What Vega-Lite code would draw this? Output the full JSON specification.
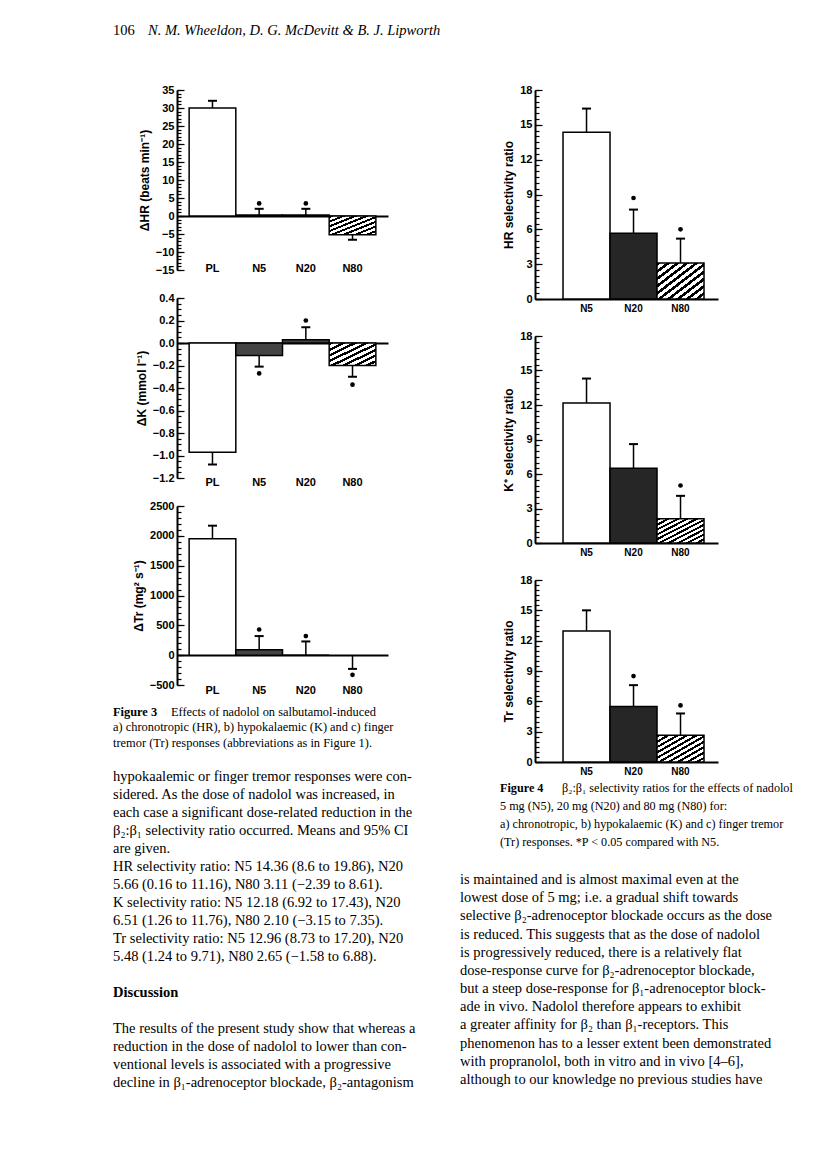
{
  "$schema": "https://vega.github.io/schema/vega-lite/v6.json",
  "background": "white",
  "padding": {"left": 113, "top": 0, "right": 0, "bottom": 0},
  "config": {
    "view": {"stroke": null},
    "axis": {"labelFont": "Liberation Sans", "labelFontWeight": "bold", "labelFontSize": 11, "labelColor": "black",
             "titleFont": "Liberation Sans", "titleFontWeight": "bold", "titleFontSize": 12, "titleColor": "black",
             "domainColor": "black", "domainWidth": 2, "tickColor": "black", "tickWidth": 1.2, "grid": false, "labelOverlap": false},
    "text": {"font": "Liberation Serif", "fontSize": 14.5, "color": "black", "align": "left", "baseline": "middle"}
  },
  "bounds": "flush",
  "spacing": 28,
  "vconcat": [
    {
      "width": 327, "height": 62,
      "data": {"values": [{"part": "page", "t": "106"}, {"part": "authors", "t": "N. M. Wheeldon, D. G. McDevitt & B. J. Lipworth"}]},
      "layer": [
        {"transform": [{"filter": "datum.part == 'page'"}], "mark": {"type": "text", "fontSize": 14.5}, "encoding": {"x": {"value": 0}, "text": {"field": "t"}}},
        {"transform": [{"filter": "datum.part == 'authors'"}], "mark": {"type": "text", "fontSize": 14.5, "fontStyle": "italic", "dx": 35}, "encoding": {"x": {"value": 0}, "text": {"field": "t"}}}
      ]
    },
    {
      "bounds": "full",
      "spacing": 20,
      "hconcat": [
        {
          "bounds": "flush",
          "spacing": 28,
          "vconcat": [
            {
              "width": 275, "height": 180,
              "data": {"values": [
                {"g": "PL", "v": 30, "err": 32, "star": null},
                {"g": "N5", "v": 0.3, "err": 2, "star": 3.5},
                {"g": "N20", "v": 0.3, "err": 2, "star": 3.5},
                {"g": "N80", "v": -5.2, "err": -6.6, "star": null}
              ]},
              "resolve": {"axis": {"y": "independent"}},
              "encoding": {"x": {"field": "g", "type": "nominal", "sort": ["PL", "N5", "N20", "N80"],
                "scale": {"range": [64, 275], "paddingInner": 0, "paddingOuter": 0.26},
                "axis": {"title": null, "orient": "bottom", "offset": -54, "ticks": false, "labelPadding": 52, "labelBaseline": "middle", "labelAngle": 0}}},
              "layer": [
                {"transform": [{"filter": "datum.g == 'PL'"}], "mark": {"type": "bar", "fill": "white", "stroke": "black", "strokeWidth": 1.5},
                 "encoding": {"y": {"field": "v", "type": "quantitative", "scale": {"domain": [-15, 35], "nice": false, "zero": false},
                   "axis": {"title": "ΔHR (beats min⁻¹)", "orient": "left", "offset": -64, "values": [-15, -10, -5, 0, 5, 10, 15, 20, 25, 30, 35],
                     "tickSize": -7, "labelPadding": 10, "titlePadding": 4}},
                   "y2": {"datum": 0}}},
                {"transform": [{"filter": "datum.g == 'N5' || datum.g == 'N20'"}], "mark": {"type": "bar", "fill": "#444", "stroke": "black", "strokeWidth": 1.5},
                 "encoding": {"y": {"field": "v", "type": "quantitative", "scale": {"domain": [-15, 35], "nice": false, "zero": false}, "axis": null}, "y2": {"datum": 0}}},
                {"transform": [{"filter": "datum.g == 'N80'"}], "mark": {"type": "bar", "stroke": "black", "strokeWidth": 1.5,
                   "fill": {"gradient": "linear", "x1": 0, "y1": 0, "x2": 1, "y2": 1, "stops": [
                     {"offset": 0, "color": "black"}, {"offset": 0.056, "color": "black"}, {"offset": 0.056, "color": "white"}, {"offset": 0.125, "color": "white"},
                     {"offset": 0.125, "color": "black"}, {"offset": 0.181, "color": "black"}, {"offset": 0.181, "color": "white"}, {"offset": 0.25, "color": "white"},
                     {"offset": 0.25, "color": "black"}, {"offset": 0.306, "color": "black"}, {"offset": 0.306, "color": "white"}, {"offset": 0.375, "color": "white"},
                     {"offset": 0.375, "color": "black"}, {"offset": 0.431, "color": "black"}, {"offset": 0.431, "color": "white"}, {"offset": 0.5, "color": "white"},
                     {"offset": 0.5, "color": "black"}, {"offset": 0.556, "color": "black"}, {"offset": 0.556, "color": "white"}, {"offset": 0.625, "color": "white"},
                     {"offset": 0.625, "color": "black"}, {"offset": 0.681, "color": "black"}, {"offset": 0.681, "color": "white"}, {"offset": 0.75, "color": "white"},
                     {"offset": 0.75, "color": "black"}, {"offset": 0.806, "color": "black"}, {"offset": 0.806, "color": "white"}, {"offset": 0.875, "color": "white"},
                     {"offset": 0.875, "color": "black"}, {"offset": 0.931, "color": "black"}, {"offset": 0.931, "color": "white"}, {"offset": 1, "color": "white"}]}},
                 "encoding": {"y": {"field": "v", "type": "quantitative", "scale": {"domain": [-15, 35], "nice": false, "zero": false}, "axis": null}, "y2": {"datum": 0}}},
                {"mark": {"type": "rule", "strokeWidth": 1.5, "color": "black"},
                 "encoding": {"y": {"field": "v", "type": "quantitative", "scale": {"domain": [-15, 35], "nice": false, "zero": false},
                   "axis": {"title": null, "orient": "left", "offset": -64, "labels": false, "domain": false, "tickSize": -4,
                     "values": [-15,-14,-13,-12,-11,-10,-9,-8,-7,-6,-5,-4,-3,-2,-1,0,1,2,3,4,5,6,7,8,9,10,11,12,13,14,15,16,17,18,19,20,21,22,23,24,25,26,27,28,29,30,31,32,33,34,35]}},
                   "y2": {"field": "err"}}},
                {"mark": {"type": "tick", "thickness": 2, "size": 9, "color": "black", "opacity": 1},
                 "encoding": {"y": {"field": "err", "type": "quantitative", "scale": {"domain": [-15, 35], "nice": false, "zero": false}, "axis": null}}},
                {"transform": [{"filter": "datum.star != null"}], "mark": {"type": "point", "shape": "circle", "filled": true, "size": 22, "color": "black", "opacity": 1},
                 "encoding": {"y": {"field": "star", "type": "quantitative", "scale": {"domain": [-15, 35], "nice": false, "zero": false}, "axis": null}}}
              ]
            },
            {
              "width": 275, "height": 180,
              "data": {"values": [
                {"g": "PL", "v": -0.97, "err": -1.08, "star": null},
                {"g": "N5", "v": -0.11, "err": -0.21, "star": -0.27},
                {"g": "N20", "v": 0.03, "err": 0.14, "star": 0.2},
                {"g": "N80", "v": -0.2, "err": -0.3, "star": -0.37}
              ]},
              "resolve": {"axis": {"y": "independent"}},
              "encoding": {"x": {"field": "g", "type": "nominal", "sort": ["PL", "N5", "N20", "N80"],
                "scale": {"range": [64, 275], "paddingInner": 0, "paddingOuter": 0.26},
                "axis": {"title": null, "orient": "bottom", "offset": -135, "ticks": false, "labelPadding": 139, "labelBaseline": "middle", "labelAngle": 0}}},
              "layer": [
                {"transform": [{"filter": "datum.g == 'PL'"}], "mark": {"type": "bar", "fill": "white", "stroke": "black", "strokeWidth": 1.5},
                 "encoding": {"y": {"field": "v", "type": "quantitative", "scale": {"domain": [-1.2, 0.4], "nice": false, "zero": false},
                   "axis": {"title": "ΔK (mmol l⁻¹)", "orient": "left", "offset": -64, "format": ".1f",
                     "values": [-1.2, -1.0, -0.8, -0.6, -0.4, -0.2, 0, 0.2, 0.4],
                     "tickSize": -7, "labelPadding": 10, "titlePadding": 4}},
                   "y2": {"datum": 0}}},
                {"transform": [{"filter": "datum.g == 'N5' || datum.g == 'N20'"}], "mark": {"type": "bar", "fill": "#444", "stroke": "black", "strokeWidth": 1.5},
                 "encoding": {"y": {"field": "v", "type": "quantitative", "scale": {"domain": [-1.2, 0.4], "nice": false, "zero": false}, "axis": null}, "y2": {"datum": 0}}},
                {"transform": [{"filter": "datum.g == 'N80'"}], "mark": {"type": "bar", "stroke": "black", "strokeWidth": 1.5,
                   "fill": {"gradient": "linear", "x1": 0, "y1": 0, "x2": 1, "y2": 1, "stops": [
                     {"offset": 0, "color": "black"}, {"offset": 0.056, "color": "black"}, {"offset": 0.056, "color": "white"}, {"offset": 0.125, "color": "white"},
                     {"offset": 0.125, "color": "black"}, {"offset": 0.181, "color": "black"}, {"offset": 0.181, "color": "white"}, {"offset": 0.25, "color": "white"},
                     {"offset": 0.25, "color": "black"}, {"offset": 0.306, "color": "black"}, {"offset": 0.306, "color": "white"}, {"offset": 0.375, "color": "white"},
                     {"offset": 0.375, "color": "black"}, {"offset": 0.431, "color": "black"}, {"offset": 0.431, "color": "white"}, {"offset": 0.5, "color": "white"},
                     {"offset": 0.5, "color": "black"}, {"offset": 0.556, "color": "black"}, {"offset": 0.556, "color": "white"}, {"offset": 0.625, "color": "white"},
                     {"offset": 0.625, "color": "black"}, {"offset": 0.681, "color": "black"}, {"offset": 0.681, "color": "white"}, {"offset": 0.75, "color": "white"},
                     {"offset": 0.75, "color": "black"}, {"offset": 0.806, "color": "black"}, {"offset": 0.806, "color": "white"}, {"offset": 0.875, "color": "white"},
                     {"offset": 0.875, "color": "black"}, {"offset": 0.931, "color": "black"}, {"offset": 0.931, "color": "white"}, {"offset": 1, "color": "white"}]}},
                 "encoding": {"y": {"field": "v", "type": "quantitative", "scale": {"domain": [-1.2, 0.4], "nice": false, "zero": false}, "axis": null}, "y2": {"datum": 0}}},
                {"mark": {"type": "rule", "strokeWidth": 1.5, "color": "black"},
                 "encoding": {"y": {"field": "v", "type": "quantitative", "scale": {"domain": [-1.2, 0.4], "nice": false, "zero": false},
                   "axis": {"title": null, "orient": "left", "offset": -64, "labels": false, "domain": false, "tickSize": -4,
                     "values": [-1.2,-1.15,-1.1,-1.05,-1,-0.95,-0.9,-0.85,-0.8,-0.75,-0.7,-0.65,-0.6,-0.55,-0.5,-0.45,-0.4,-0.35,-0.3,-0.25,-0.2,-0.15,-0.1,-0.05,0,0.05,0.1,0.15,0.2,0.25,0.3,0.35,0.4]}},
                   "y2": {"field": "err"}}},
                {"mark": {"type": "tick", "thickness": 2, "size": 9, "color": "black", "opacity": 1},
                 "encoding": {"y": {"field": "err", "type": "quantitative", "scale": {"domain": [-1.2, 0.4], "nice": false, "zero": false}, "axis": null}}},
                {"transform": [{"filter": "datum.star != null"}], "mark": {"type": "point", "shape": "circle", "filled": true, "size": 22, "color": "black", "opacity": 1},
                 "encoding": {"y": {"field": "star", "type": "quantitative", "scale": {"domain": [-1.2, 0.4], "nice": false, "zero": false}, "axis": null}}}
              ]
            },
            {
              "width": 275, "height": 179,
              "data": {"values": [
                {"g": "PL", "v": 1950, "err": 2170, "star": null},
                {"g": "N5", "v": 90, "err": 320, "star": 430},
                {"g": "N20", "v": 0, "err": 230, "star": 320},
                {"g": "N80", "v": 0, "err": -230, "star": -330}
              ]},
              "resolve": {"axis": {"y": "independent"}},
              "encoding": {"x": {"field": "g", "type": "nominal", "sort": ["PL", "N5", "N20", "N80"],
                "scale": {"range": [64, 275], "paddingInner": 0, "paddingOuter": 0.26},
                "axis": {"title": null, "orient": "bottom", "offset": -30, "ticks": false, "labelPadding": 35, "labelBaseline": "middle", "labelAngle": 0}}},
              "layer": [
                {"transform": [{"filter": "datum.g == 'PL'"}], "mark": {"type": "bar", "fill": "white", "stroke": "black", "strokeWidth": 1.5},
                 "encoding": {"y": {"field": "v", "type": "quantitative", "scale": {"domain": [-500, 2500], "nice": false, "zero": false},
                   "axis": {"title": "ΔTr (mg² s⁻¹)", "orient": "left", "offset": -64, "format": "d",
                     "values": [-500, 0, 500, 1000, 1500, 2000, 2500],
                     "tickSize": -7, "labelPadding": 10, "titlePadding": 4}},
                   "y2": {"datum": 0}}},
                {"transform": [{"filter": "datum.g == 'N5' || datum.g == 'N20'"}], "mark": {"type": "bar", "fill": "#444", "stroke": "black", "strokeWidth": 1.5},
                 "encoding": {"y": {"field": "v", "type": "quantitative", "scale": {"domain": [-500, 2500], "nice": false, "zero": false}, "axis": null}, "y2": {"datum": 0}}},
                {"mark": {"type": "rule", "strokeWidth": 1.5, "color": "black"},
                 "encoding": {"y": {"field": "v", "type": "quantitative", "scale": {"domain": [-500, 2500], "nice": false, "zero": false},
                   "axis": {"title": null, "orient": "left", "offset": -64, "labels": false, "domain": false, "tickSize": -4,
                     "values": [-500,-400,-300,-200,-100,0,100,200,300,400,500,600,700,800,900,1000,1100,1200,1300,1400,1500,1600,1700,1800,1900,2000,2100,2200,2300,2400,2500]}},
                   "y2": {"field": "err"}}},
                {"mark": {"type": "tick", "thickness": 2, "size": 9, "color": "black", "opacity": 1},
                 "encoding": {"y": {"field": "err", "type": "quantitative", "scale": {"domain": [-500, 2500], "nice": false, "zero": false}, "axis": null}}},
                {"transform": [{"filter": "datum.star != null"}], "mark": {"type": "point", "shape": "circle", "filled": true, "size": 22, "color": "black", "opacity": 1},
                 "encoding": {"y": {"field": "star", "type": "quantitative", "scale": {"domain": [-500, 2500], "nice": false, "zero": false}, "axis": null}}}
              ]
            },
            {
              "width": 327, "height": 380,
              "data": {"values": [
                {"kind": "capb", "line": 0, "t": "Figure 3"},
                {"kind": "capf", "line": 0, "t": "Effects of nadolol on salbutamol-induced"},
                {"kind": "cap", "line": 1, "t": "a) chronotropic (HR), b) hypokalaemic (K) and c) finger"},
                {"kind": "cap", "line": 2, "t": "tremor (Tr) responses (abbreviations as in Figure 1)."},
                {"kind": "body", "line": 0, "t": "hypokaalemic or finger tremor responses were con-"},
                {"kind": "body", "line": 1, "t": "sidered. As the dose of nadolol was increased, in"},
                {"kind": "body", "line": 2, "t": "each case a significant dose-related reduction in the"},
                {"kind": "body", "line": 3, "t": "β₂:β₁ selectivity ratio occurred. Means and 95% CI"},
                {"kind": "body", "line": 4, "t": "are given."},
                {"kind": "body", "line": 5, "t": "HR selectivity ratio: N5 14.36 (8.6 to 19.86), N20"},
                {"kind": "body", "line": 6, "t": "5.66 (0.16 to 11.16), N80 3.11 (−2.39 to 8.61)."},
                {"kind": "body", "line": 7, "t": "K selectivity ratio: N5 12.18 (6.92 to 17.43), N20"},
                {"kind": "body", "line": 8, "t": "6.51 (1.26 to 11.76), N80 2.10 (−3.15 to 7.35)."},
                {"kind": "body", "line": 9, "t": "Tr selectivity ratio: N5 12.96 (8.73 to 17.20), N20"},
                {"kind": "body", "line": 10, "t": "5.48 (1.24 to 9.71), N80 2.65 (−1.58 to 6.88)."},
                {"kind": "head", "line": 12, "t": "Discussion"},
                {"kind": "body", "line": 14, "t": "The results of the present study show that whereas a"},
                {"kind": "body", "line": 15, "t": "reduction in the dose of nadolol to lower than con-"},
                {"kind": "body", "line": 16, "t": "ventional levels is associated with a progressive"},
                {"kind": "body", "line": 17, "t": "decline in β₁-adrenoceptor blockade, β₂-antagonism"}
              ]},
              "resolve": {"scale": {"y": "independent"}},
              "layer": [
                {"transform": [{"filter": "datum.kind == 'capb'"}], "mark": {"type": "text", "fontSize": 12.4, "fontWeight": "bold"},
                 "encoding": {"x": {"value": 0}, "y": {"field": "line", "type": "quantitative", "scale": {"domain": [0, 2], "range": [-1, 29.6]}, "axis": null}, "text": {"field": "t"}}},
                {"transform": [{"filter": "datum.kind == 'capf'"}], "mark": {"type": "text", "fontSize": 12.4, "dx": 58},
                 "encoding": {"x": {"value": 0}, "y": {"field": "line", "type": "quantitative", "scale": {"domain": [0, 2], "range": [-1, 29.6]}, "axis": null}, "text": {"field": "t"}}},
                {"transform": [{"filter": "datum.kind == 'cap'"}], "mark": {"type": "text", "fontSize": 12.4},
                 "encoding": {"x": {"value": 0}, "y": {"field": "line", "type": "quantitative", "scale": {"domain": [0, 2], "range": [-1, 29.6]}, "axis": null}, "text": {"field": "t"}}},
                {"transform": [{"filter": "datum.kind == 'body'"}], "mark": {"type": "text"},
                 "encoding": {"x": {"value": 0}, "y": {"field": "line", "type": "quantitative", "scale": {"domain": [0, 17], "range": [64, 370]}, "axis": null}, "text": {"field": "t"}}},
                {"transform": [{"filter": "datum.kind == 'head'"}], "mark": {"type": "text", "fontWeight": "bold"},
                 "encoding": {"x": {"value": 0}, "y": {"field": "line", "type": "quantitative", "scale": {"domain": [0, 17], "range": [64, 370]}, "axis": null}, "text": {"field": "t"}}}
              ]
            }
          ]
        },
        {
          "bounds": "flush",
          "spacing": 37,
          "vconcat": [
            {
              "width": 258, "height": 209,
              "data": {"values": [
                {"g": "N5", "v": 14.36, "err": 16.4, "star": null},
                {"g": "N20", "v": 5.66, "err": 7.7, "star": 8.7},
                {"g": "N80", "v": 3.11, "err": 5.2, "star": 6.0}
              ]},
              "resolve": {"axis": {"y": "independent"}},
              "encoding": {"x": {"field": "g", "type": "nominal", "sort": ["N5", "N20", "N80"],
                "scale": {"range": [75, 258], "paddingInner": 0, "paddingOuter": 0.447, "align": 0.667},
                "axis": {"title": null, "orient": "bottom", "ticks": false, "labelPadding": 4, "labelAngle": 0, "labelFontSize": 10}}},
              "layer": [
                {"transform": [{"filter": "datum.g == 'N5'"}], "mark": {"type": "bar", "fill": "white", "stroke": "black", "strokeWidth": 1.5},
                 "encoding": {"y": {"field": "v", "type": "quantitative", "scale": {"domain": [0, 18], "nice": false},
                   "axis": {"title": "HR selectivity ratio", "orient": "left", "offset": -75, "values": [0, 3, 6, 9, 12, 15, 18],
                     "tickSize": -7, "labelPadding": 10, "titlePadding": 4}},
                   "y2": {"datum": 0}}},
                {"transform": [{"filter": "datum.g == 'N20'"}], "mark": {"type": "bar", "fill": "#262626", "stroke": "black", "strokeWidth": 1.5},
                 "encoding": {"y": {"field": "v", "type": "quantitative", "scale": {"domain": [0, 18], "nice": false}, "axis": null}, "y2": {"datum": 0}}},
                {"transform": [{"filter": "datum.g == 'N80'"}], "mark": {"type": "bar", "stroke": "black", "strokeWidth": 1.5,
                   "fill": {"gradient": "linear", "x1": 0, "y1": 0, "x2": 1, "y2": 1, "stops": [
                     {"offset": 0, "color": "black"}, {"offset": 0.045, "color": "black"}, {"offset": 0.045, "color": "white"}, {"offset": 0.1, "color": "white"},
                     {"offset": 0.1, "color": "black"}, {"offset": 0.145, "color": "black"}, {"offset": 0.145, "color": "white"}, {"offset": 0.2, "color": "white"},
                     {"offset": 0.2, "color": "black"}, {"offset": 0.245, "color": "black"}, {"offset": 0.245, "color": "white"}, {"offset": 0.3, "color": "white"},
                     {"offset": 0.3, "color": "black"}, {"offset": 0.345, "color": "black"}, {"offset": 0.345, "color": "white"}, {"offset": 0.4, "color": "white"},
                     {"offset": 0.4, "color": "black"}, {"offset": 0.445, "color": "black"}, {"offset": 0.445, "color": "white"}, {"offset": 0.5, "color": "white"},
                     {"offset": 0.5, "color": "black"}, {"offset": 0.545, "color": "black"}, {"offset": 0.545, "color": "white"}, {"offset": 0.6, "color": "white"},
                     {"offset": 0.6, "color": "black"}, {"offset": 0.645, "color": "black"}, {"offset": 0.645, "color": "white"}, {"offset": 0.7, "color": "white"},
                     {"offset": 0.7, "color": "black"}, {"offset": 0.745, "color": "black"}, {"offset": 0.745, "color": "white"}, {"offset": 0.8, "color": "white"},
                     {"offset": 0.8, "color": "black"}, {"offset": 0.845, "color": "black"}, {"offset": 0.845, "color": "white"}, {"offset": 0.9, "color": "white"},
                     {"offset": 0.9, "color": "black"}, {"offset": 0.945, "color": "black"}, {"offset": 0.945, "color": "white"}, {"offset": 1, "color": "white"}]}},
                 "encoding": {"y": {"field": "v", "type": "quantitative", "scale": {"domain": [0, 18], "nice": false}, "axis": null}, "y2": {"datum": 0}}},
                {"mark": {"type": "rule", "strokeWidth": 1.5, "color": "black"},
                 "encoding": {"y": {"field": "v", "type": "quantitative", "scale": {"domain": [0, 18], "nice": false},
                   "axis": {"title": null, "orient": "left", "offset": -75, "labels": false, "domain": false, "tickSize": -4,
                     "values": [0,0.5,1,1.5,2,2.5,3,3.5,4,4.5,5,5.5,6,6.5,7,7.5,8,8.5,9,9.5,10,10.5,11,11.5,12,12.5,13,13.5,14,14.5,15,15.5,16,16.5,17,17.5,18]}},
                   "y2": {"field": "err"}}},
                {"mark": {"type": "tick", "thickness": 2, "size": 9, "color": "black", "opacity": 1},
                 "encoding": {"y": {"field": "err", "type": "quantitative", "scale": {"domain": [0, 18], "nice": false}, "axis": null}}},
                {"transform": [{"filter": "datum.star != null"}], "mark": {"type": "point", "shape": "circle", "filled": true, "size": 22, "color": "black", "opacity": 1},
                 "encoding": {"y": {"field": "star", "type": "quantitative", "scale": {"domain": [0, 18], "nice": false}, "axis": null}}}
              ]
            },
            {
              "width": 258, "height": 207,
              "data": {"values": [
                {"g": "N5", "v": 12.18, "err": 14.3, "star": null},
                {"g": "N20", "v": 6.51, "err": 8.6, "star": null},
                {"g": "N80", "v": 2.1, "err": 4.1, "star": 5.0}
              ]},
              "resolve": {"axis": {"y": "independent"}},
              "encoding": {"x": {"field": "g", "type": "nominal", "sort": ["N5", "N20", "N80"],
                "scale": {"range": [75, 258], "paddingInner": 0, "paddingOuter": 0.447, "align": 0.667},
                "axis": {"title": null, "orient": "bottom", "ticks": false, "labelPadding": 4, "labelAngle": 0, "labelFontSize": 10}}},
              "layer": [
                {"transform": [{"filter": "datum.g == 'N5'"}], "mark": {"type": "bar", "fill": "white", "stroke": "black", "strokeWidth": 1.5},
                 "encoding": {"y": {"field": "v", "type": "quantitative", "scale": {"domain": [0, 18], "nice": false},
                   "axis": {"title": "K⁺ selectivity ratio", "orient": "left", "offset": -75, "values": [0, 3, 6, 9, 12, 15, 18],
                     "tickSize": -7, "labelPadding": 10, "titlePadding": 4}},
                   "y2": {"datum": 0}}},
                {"transform": [{"filter": "datum.g == 'N20'"}], "mark": {"type": "bar", "fill": "#262626", "stroke": "black", "strokeWidth": 1.5},
                 "encoding": {"y": {"field": "v", "type": "quantitative", "scale": {"domain": [0, 18], "nice": false}, "axis": null}, "y2": {"datum": 0}}},
                {"transform": [{"filter": "datum.g == 'N80'"}], "mark": {"type": "bar", "stroke": "black", "strokeWidth": 1.5,
                   "fill": {"gradient": "linear", "x1": 0, "y1": 0, "x2": 1, "y2": 1, "stops": [
                     {"offset": 0, "color": "black"}, {"offset": 0.045, "color": "black"}, {"offset": 0.045, "color": "white"}, {"offset": 0.1, "color": "white"},
                     {"offset": 0.1, "color": "black"}, {"offset": 0.145, "color": "black"}, {"offset": 0.145, "color": "white"}, {"offset": 0.2, "color": "white"},
                     {"offset": 0.2, "color": "black"}, {"offset": 0.245, "color": "black"}, {"offset": 0.245, "color": "white"}, {"offset": 0.3, "color": "white"},
                     {"offset": 0.3, "color": "black"}, {"offset": 0.345, "color": "black"}, {"offset": 0.345, "color": "white"}, {"offset": 0.4, "color": "white"},
                     {"offset": 0.4, "color": "black"}, {"offset": 0.445, "color": "black"}, {"offset": 0.445, "color": "white"}, {"offset": 0.5, "color": "white"},
                     {"offset": 0.5, "color": "black"}, {"offset": 0.545, "color": "black"}, {"offset": 0.545, "color": "white"}, {"offset": 0.6, "color": "white"},
                     {"offset": 0.6, "color": "black"}, {"offset": 0.645, "color": "black"}, {"offset": 0.645, "color": "white"}, {"offset": 0.7, "color": "white"},
                     {"offset": 0.7, "color": "black"}, {"offset": 0.745, "color": "black"}, {"offset": 0.745, "color": "white"}, {"offset": 0.8, "color": "white"},
                     {"offset": 0.8, "color": "black"}, {"offset": 0.845, "color": "black"}, {"offset": 0.845, "color": "white"}, {"offset": 0.9, "color": "white"},
                     {"offset": 0.9, "color": "black"}, {"offset": 0.945, "color": "black"}, {"offset": 0.945, "color": "white"}, {"offset": 1, "color": "white"}]}},
                 "encoding": {"y": {"field": "v", "type": "quantitative", "scale": {"domain": [0, 18], "nice": false}, "axis": null}, "y2": {"datum": 0}}},
                {"mark": {"type": "rule", "strokeWidth": 1.5, "color": "black"},
                 "encoding": {"y": {"field": "v", "type": "quantitative", "scale": {"domain": [0, 18], "nice": false},
                   "axis": {"title": null, "orient": "left", "offset": -75, "labels": false, "domain": false, "tickSize": -4,
                     "values": [0,0.5,1,1.5,2,2.5,3,3.5,4,4.5,5,5.5,6,6.5,7,7.5,8,8.5,9,9.5,10,10.5,11,11.5,12,12.5,13,13.5,14,14.5,15,15.5,16,16.5,17,17.5,18]}},
                   "y2": {"field": "err"}}},
                {"mark": {"type": "tick", "thickness": 2, "size": 9, "color": "black", "opacity": 1},
                 "encoding": {"y": {"field": "err", "type": "quantitative", "scale": {"domain": [0, 18], "nice": false}, "axis": null}}},
                {"transform": [{"filter": "datum.star != null"}], "mark": {"type": "point", "shape": "circle", "filled": true, "size": 22, "color": "black", "opacity": 1},
                 "encoding": {"y": {"field": "star", "type": "quantitative", "scale": {"domain": [0, 18], "nice": false}, "axis": null}}}
              ]
            },
            {
              "width": 258, "height": 182,
              "data": {"values": [
                {"g": "N5", "v": 12.96, "err": 15.0, "star": null},
                {"g": "N20", "v": 5.48, "err": 7.6, "star": 8.5},
                {"g": "N80", "v": 2.65, "err": 4.8, "star": 5.6}
              ]},
              "resolve": {"axis": {"y": "independent"}},
              "encoding": {"x": {"field": "g", "type": "nominal", "sort": ["N5", "N20", "N80"],
                "scale": {"range": [75, 258], "paddingInner": 0, "paddingOuter": 0.447, "align": 0.667},
                "axis": {"title": null, "orient": "bottom", "ticks": false, "labelPadding": 4, "labelAngle": 0, "labelFontSize": 10}}},
              "layer": [
                {"transform": [{"filter": "datum.g == 'N5'"}], "mark": {"type": "bar", "fill": "white", "stroke": "black", "strokeWidth": 1.5},
                 "encoding": {"y": {"field": "v", "type": "quantitative", "scale": {"domain": [0, 18], "nice": false},
                   "axis": {"title": "Tr selectivity ratio", "orient": "left", "offset": -75, "values": [0, 3, 6, 9, 12, 15, 18],
                     "tickSize": -7, "labelPadding": 10, "titlePadding": 4}},
                   "y2": {"datum": 0}}},
                {"transform": [{"filter": "datum.g == 'N20'"}], "mark": {"type": "bar", "fill": "#262626", "stroke": "black", "strokeWidth": 1.5},
                 "encoding": {"y": {"field": "v", "type": "quantitative", "scale": {"domain": [0, 18], "nice": false}, "axis": null}, "y2": {"datum": 0}}},
                {"transform": [{"filter": "datum.g == 'N80'"}], "mark": {"type": "bar", "stroke": "black", "strokeWidth": 1.5,
                   "fill": {"gradient": "linear", "x1": 0, "y1": 0, "x2": 1, "y2": 1, "stops": [
                     {"offset": 0, "color": "black"}, {"offset": 0.045, "color": "black"}, {"offset": 0.045, "color": "white"}, {"offset": 0.1, "color": "white"},
                     {"offset": 0.1, "color": "black"}, {"offset": 0.145, "color": "black"}, {"offset": 0.145, "color": "white"}, {"offset": 0.2, "color": "white"},
                     {"offset": 0.2, "color": "black"}, {"offset": 0.245, "color": "black"}, {"offset": 0.245, "color": "white"}, {"offset": 0.3, "color": "white"},
                     {"offset": 0.3, "color": "black"}, {"offset": 0.345, "color": "black"}, {"offset": 0.345, "color": "white"}, {"offset": 0.4, "color": "white"},
                     {"offset": 0.4, "color": "black"}, {"offset": 0.445, "color": "black"}, {"offset": 0.445, "color": "white"}, {"offset": 0.5, "color": "white"},
                     {"offset": 0.5, "color": "black"}, {"offset": 0.545, "color": "black"}, {"offset": 0.545, "color": "white"}, {"offset": 0.6, "color": "white"},
                     {"offset": 0.6, "color": "black"}, {"offset": 0.645, "color": "black"}, {"offset": 0.645, "color": "white"}, {"offset": 0.7, "color": "white"},
                     {"offset": 0.7, "color": "black"}, {"offset": 0.745, "color": "black"}, {"offset": 0.745, "color": "white"}, {"offset": 0.8, "color": "white"},
                     {"offset": 0.8, "color": "black"}, {"offset": 0.845, "color": "black"}, {"offset": 0.845, "color": "white"}, {"offset": 0.9, "color": "white"},
                     {"offset": 0.9, "color": "black"}, {"offset": 0.945, "color": "black"}, {"offset": 0.945, "color": "white"}, {"offset": 1, "color": "white"}]}},
                 "encoding": {"y": {"field": "v", "type": "quantitative", "scale": {"domain": [0, 18], "nice": false}, "axis": null}, "y2": {"datum": 0}}},
                {"mark": {"type": "rule", "strokeWidth": 1.5, "color": "black"},
                 "encoding": {"y": {"field": "v", "type": "quantitative", "scale": {"domain": [0, 18], "nice": false},
                   "axis": {"title": null, "orient": "left", "offset": -75, "labels": false, "domain": false, "tickSize": -4,
                     "values": [0,0.5,1,1.5,2,2.5,3,3.5,4,4.5,5,5.5,6,6.5,7,7.5,8,8.5,9,9.5,10,10.5,11,11.5,12,12.5,13,13.5,14,14.5,15,15.5,16,16.5,17,17.5,18]}},
                   "y2": {"field": "err"}}},
                {"mark": {"type": "tick", "thickness": 2, "size": 9, "color": "black", "opacity": 1},
                 "encoding": {"y": {"field": "err", "type": "quantitative", "scale": {"domain": [0, 18], "nice": false}, "axis": null}}},
                {"transform": [{"filter": "datum.star != null"}], "mark": {"type": "point", "shape": "circle", "filled": true, "size": 22, "color": "black", "opacity": 1},
                 "encoding": {"y": {"field": "star", "type": "quantitative", "scale": {"domain": [0, 18], "nice": false}, "axis": null}}}
              ]
            },
            {
              "width": 330, "height": 290,
              "data": {"values": [
                {"kind": "capb", "line": 0, "t": "Figure 4"},
                {"kind": "capf", "line": 0, "t": "β₂:β₁ selectivity ratios for the effects of nadolol"},
                {"kind": "cap", "line": 1, "t": "5 mg (N5), 20 mg (N20) and 80 mg (N80) for:"},
                {"kind": "cap", "line": 2, "t": "a) chronotropic, b) hypokalaemic (K) and c) finger tremor"},
                {"kind": "cap", "line": 3, "t": "(Tr) responses. *P < 0.05 compared with N5."},
                {"kind": "body", "line": 0, "t": "is maintained and is almost maximal even at the"},
                {"kind": "body", "line": 1, "t": "lowest dose of 5 mg; i.e. a gradual shift towards"},
                {"kind": "body", "line": 2, "t": "selective β₂-adrenoceptor blockade occurs as the dose"},
                {"kind": "body", "line": 3, "t": "is reduced. This suggests that as the dose of nadolol"},
                {"kind": "body", "line": 4, "t": "is progressively reduced, there is a relatively flat"},
                {"kind": "body", "line": 5, "t": "dose-response curve for β₂-adrenoceptor blockade,"},
                {"kind": "body", "line": 6, "t": "but a steep dose-response for β₁-adrenoceptor block-"},
                {"kind": "body", "line": 7, "t": "ade in vivo. Nadolol therefore appears to exhibit"},
                {"kind": "body", "line": 8, "t": "a greater affinity for β₂ than β₁-receptors. This"},
                {"kind": "body", "line": 9, "t": "phenomenon has to a lesser extent been demonstrated"},
                {"kind": "body", "line": 10, "t": "with propranolol, both in vitro and in vivo [4–6],"},
                {"kind": "body", "line": 11, "t": "although to our knowledge no previous studies have"}
              ]},
              "resolve": {"scale": {"y": "independent"}},
              "layer": [
                {"transform": [{"filter": "datum.kind == 'capb'"}], "mark": {"type": "text", "fontSize": 12.2, "fontWeight": "bold", "dx": 40},
                 "encoding": {"x": {"value": 0}, "y": {"field": "line", "type": "quantitative", "scale": {"domain": [0, 3], "range": [-11, 43]}, "axis": null}, "text": {"field": "t"}}},
                {"transform": [{"filter": "datum.kind == 'capf'"}], "mark": {"type": "text", "fontSize": 12.2, "dx": 102},
                 "encoding": {"x": {"value": 0}, "y": {"field": "line", "type": "quantitative", "scale": {"domain": [0, 3], "range": [-11, 43]}, "axis": null}, "text": {"field": "t"}}},
                {"transform": [{"filter": "datum.kind == 'cap'"}], "mark": {"type": "text", "fontSize": 12.2, "dx": 40},
                 "encoding": {"x": {"value": 0}, "y": {"field": "line", "type": "quantitative", "scale": {"domain": [0, 3], "range": [-11, 43]}, "axis": null}, "text": {"field": "t"}}},
                {"transform": [{"filter": "datum.kind == 'body'"}], "mark": {"type": "text"},
                 "encoding": {"x": {"value": 0}, "y": {"field": "line", "type": "quantitative", "scale": {"domain": [0, 11], "range": [81, 281]}, "axis": null}, "text": {"field": "t"}}}
              ]
            }
          ]
        }
      ]
    }
  ]
}
